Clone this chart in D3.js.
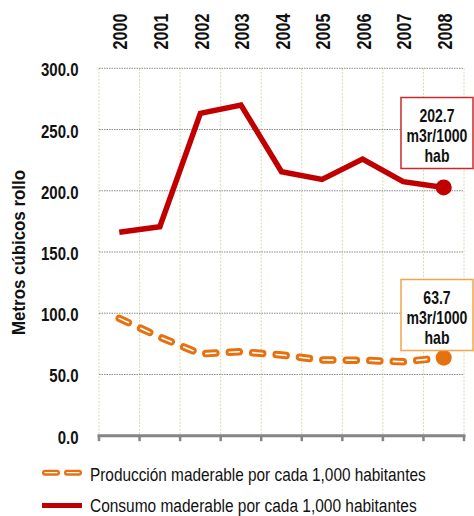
<!DOCTYPE html>
<html>
<head>
<meta charset="utf-8">
<script src="https://cdn.jsdelivr.net/npm/d3@7"></script>
<style>
  body { margin: 0; background: #fff; }
  svg { display: block; }
  text { font-family: "Liberation Sans Narrow", "Arial Narrow", "Liberation Sans", Arial, sans-serif; fill: #111; }
</style>
</head>
<body>
<script>
// data
const years = ["2000","2001","2002","2003","2004","2005","2006","2007","2008"];
const consumo = [166.1, 170.7, 263.2, 270.0, 215.6, 209.3, 225.9, 207.4, 202.7];
const produccion = [95.8, 80.5, 66.8, 68.6, 65.9, 61.8, 61.6, 60.4, 63.7];
const yTicks = [0, 50, 100, 150, 200, 250, 300];
const legendLabels = ["Producción maderable  por  cada 1,000 habitantes",
                      "Consumo maderable  por  cada 1,000  habitantes"];
const endLabels = [["202.7", "m3r/1000", "hab"], ["63.7", "m3r/1000", "hab"]];

const red = "#c00000", orange = "#e8710f";

let svg = d3.select("body")
  .append("svg")
    .attr("width", 474)
    .attr("height", 516);

// texts are placed with a transform ending at their anchor point;
// squeeze() appends a horizontal scale so the wide font looks narrow
function squeeze(sel, k) {
  sel.attr("transform", function() {
    return d3.select(this).attr("transform") + ` scale(${k},1)`;
  });
}
function fitTo(sel, widths) {
  sel.attr("transform", function(d, i) {
    let w = this.getComputedTextLength();
    return d3.select(this).attr("transform") + ` scale(${widths[i] / w},1)`;
  });
}

let x = d3.scaleBand().domain(years).range([99, 464]).padding(0);
let y = d3.scaleLinear().domain([0, 300]).range([435.7, 68.3]);
let cx = d => x(d) + x.bandwidth() / 2;

// vertical grid on band edges
let edges = years.map(d => x(d)).concat([464]);
svg.append("g").selectAll("line")
  .data(edges).join("line")
    .attr("x1", d => d).attr("x2", d => d)
    .attr("y1", y(300)).attr("y2", y(0))
    .attr("stroke", "#d6dbae")
    .attr("stroke-width", 1)
    .attr("stroke-dasharray", "2,1.5");

// horizontal grid
svg.append("g").selectAll("line")
  .data(yTicks.filter(d => d > 0)).join("line")
    .attr("x1", 99).attr("x2", 464)
    .attr("y1", d => y(d)).attr("y2", d => y(d))
    .attr("stroke", "#8a8a8a")
    .attr("stroke-width", 1)
    .attr("stroke-dasharray", "1.5,1");

// y labels
svg.append("g").selectAll("text")
  .data(yTicks).join("text")
    .attr("transform", d => `translate(78.5,${y(d) + 8})`)
    .attr("text-anchor", "end")
    .attr("font-weight", "bold")
    .attr("font-size", 18.5)
    .text(d => d.toFixed(1))
    .call(squeeze, 0.81);

// year labels on top, rotated
svg.append("g").selectAll("text")
  .data(years).join("text")
    .attr("transform", d => `translate(${cx(d) + 8.2},49.5) rotate(-90)`)
    .attr("font-weight", "bold")
    .attr("font-size", 20)
    .text(d => d)
    .call(squeeze, 0.81);

// y title
svg.append("text")
  .attr("transform", "translate(24.5,252.5) rotate(-90)")
  .attr("text-anchor", "middle")
  .attr("font-weight", "bold")
  .attr("font-size", 19)
  .text("Metros cúbicos rollo")
  .call(fitTo, [165]);

// bottom axis
svg.append("line")
  .attr("x1", 97.5).attr("x2", 465.5)
  .attr("y1", y(0)).attr("y2", y(0))
  .attr("stroke", "#858585").attr("stroke-width", 3);
svg.append("g").selectAll("line")
  .data(edges).join("line")
    .attr("x1", d => d).attr("x2", d => d)
    .attr("y1", y(0)).attr("y2", y(0) + 5.5)
    .attr("stroke", "#858585").attr("stroke-width", 2.5);

// lines
let line = d3.line()
  .x((d, i) => cx(years[i]))
  .y(d => y(d));

svg.append("path")
  .attr("d", line(consumo))
  .attr("fill", "none")
  .attr("stroke", red)
  .attr("stroke-width", 5.5)
  .attr("stroke-linejoin", "miter");

svg.append("path")
  .attr("d", line(produccion))
  .attr("fill", "none")
  .attr("stroke", orange)
  .attr("stroke-width", 7.5)
  .attr("stroke-linecap", "round")
  .attr("stroke-dasharray", "10,13.5");
svg.append("path")
  .attr("d", line(produccion))
  .attr("fill", "none")
  .attr("stroke", "#fff")
  .attr("stroke-width", 1.6)
  .attr("stroke-linecap", "round")
  .attr("stroke-dasharray", "10,13.5");

// end points
svg.append("circle")
  .attr("cx", cx("2008")).attr("cy", y(consumo[8]))
  .attr("r", 8).attr("fill", red);
svg.append("circle")
  .attr("cx", cx("2008")).attr("cy", y(produccion[8]))
  .attr("r", 8).attr("fill", orange);

// end label boxes
let boxes = [
  { top: 97.5, color: "#cc2a2a", lines: endLabels[0] },
  { top: 279.5, color: "#f2a54a", lines: endLabels[1] }
];
boxes.forEach(b => {
  let g = svg.append("g");
  g.append("rect")
    .attr("x", 401).attr("y", b.top)
    .attr("width", 72).attr("height", 71)
    .attr("fill", "#fff")
    .attr("stroke", b.color).attr("stroke-width", 1.5);
  g.selectAll("text")
    .data(b.lines).join("text")
      .attr("transform", (d, i) => `translate(437,${b.top + [24.5, 44.5, 64][i]})`)
      .attr("text-anchor", "middle")
      .attr("font-weight", "bold")
      .attr("font-size", 18)
      .text(d => d)
      .call(squeeze, 0.78);
});

// legend
let lg = svg.append("g");
lg.append("line")
  .attr("x1", 45).attr("x2", 79)
  .attr("y1", 472.7).attr("y2", 472.7)
  .attr("stroke", orange).attr("stroke-width", 6)
  .attr("stroke-linecap", "round")
  .attr("stroke-dasharray", "12,10");
lg.append("line")
  .attr("x1", 45).attr("x2", 79)
  .attr("y1", 472.7).attr("y2", 472.7)
  .attr("stroke", "#fff").attr("stroke-width", 1.3)
  .attr("stroke-linecap", "round")
  .attr("stroke-dasharray", "12,10");
lg.append("line")
  .attr("x1", 42).attr("x2", 82)
  .attr("y1", 505.5).attr("y2", 505.5)
  .attr("stroke", red).attr("stroke-width", 5);

lg.selectAll("text")
  .data(legendLabels).join("text")
    .attr("transform", (d, i) => `translate(90,${[481, 511.5][i]})`)
    .attr("font-size", 19)
    .text(d => d)
    .call(fitTo, [336, 327]);
</script>
</body>
</html>
